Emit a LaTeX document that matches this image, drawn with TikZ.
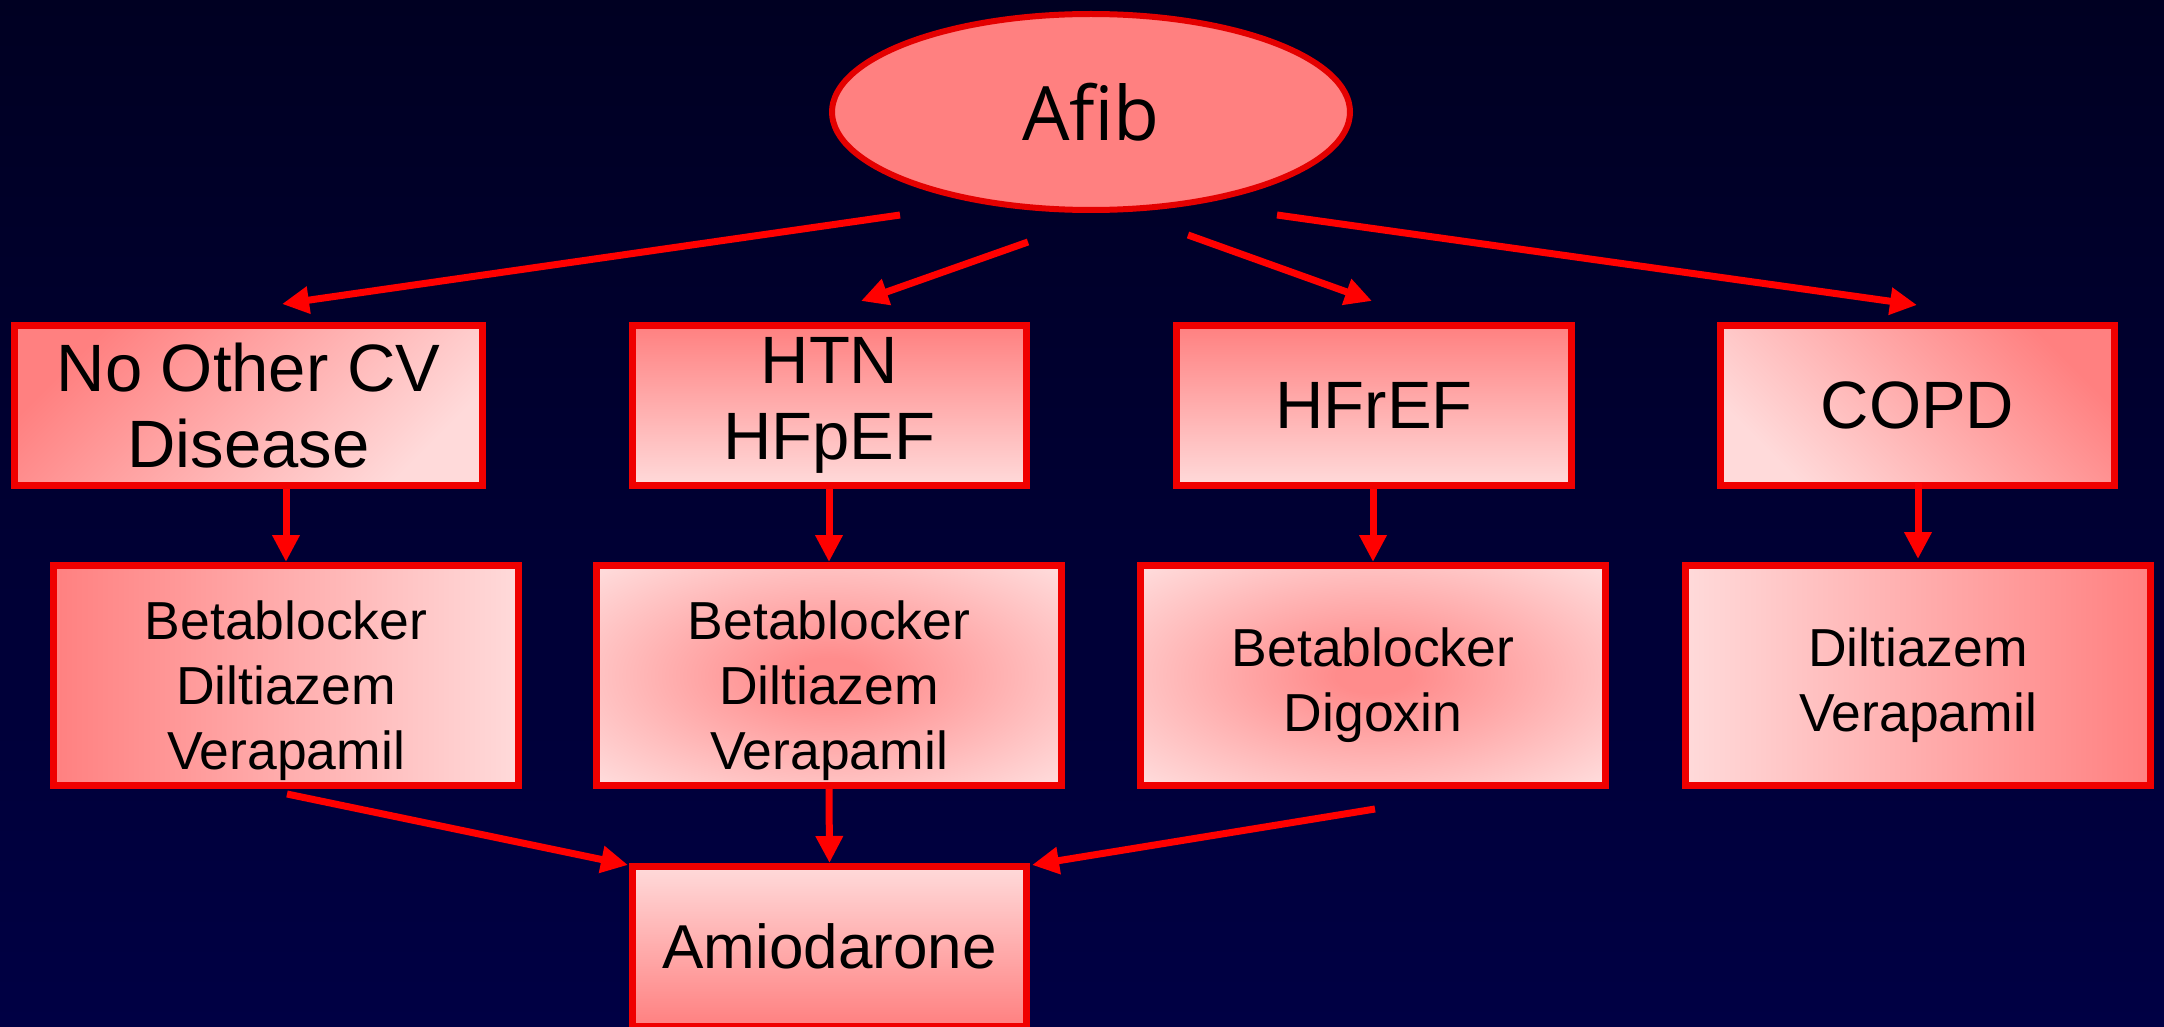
\documentclass[tikz,border=0pt]{standalone}
\usepackage{fontspec}
\setmainfont{Liberation Sans}
\newfontfamily\ovalfont{Open Sans}
\usetikzlibrary{arrows.meta,shapes.geometric,calc}

\definecolor{bgtop}{RGB}{0,0,34}
\definecolor{bgbot}{RGB}{0,0,68}
\definecolor{salmon}{RGB}{255,128,128}
\definecolor{blush}{RGB}{255,218,218}
\definecolor{glowcore}{RGB}{255,140,140}
\definecolor{ovalrim}{RGB}{228,0,0}
\definecolor{boxrim}{RGB}{240,0,0}

% soft radial glow that fades out towards the box edges
\pgfdeclareradialshading{softglow}{\pgfpoint{0bp}{0bp}}{%
  color(0bp)=(glowcore); color(4bp)=(glowcore); color(34bp)=(blush); color(50bp)=(blush)}

% struts that lower the first line of the drug lists
\newcommand{\lowthree}{\rule{0pt}{70pt}}
\newcommand{\lowtwo}{\rule{0pt}{58pt}}

\tikzset{
  x=1pt, y=-1pt,
  box/.style={draw=boxrim, line width=7pt, rectangle, inner sep=0pt,
    align=center, text=black},
  toprow/.style={box, minimum height=160pt, font=\fontsize{67}{76}\selectfont},
  midrow/.style={box, minimum width=465pt, minimum height=220pt,
    font=\fontsize{53.5}{65}\selectfont},
  glowbox/.style={midrow, shade, shading=softglow},
  flow/.style={draw=red, line width=7pt,
    -{Triangle[length=27pt,width=26pt]}}
}

\begin{document}
\begin{tikzpicture}
  % canvas and background
  \useasboundingbox (0,0) rectangle (2164,1027);
  \clip (0,0) rectangle (2164,1027);
  \shade[top color=bgtop, bottom color=bgbot] (0,0) rectangle (2164,1027);

  % root oval
  \node[ellipse, draw=ovalrim, line width=6pt, fill=salmon,
        minimum width=518pt, minimum height=196pt, inner sep=0pt,
        font=\ovalfont\fontsize{75}{85}\selectfont] (afib) at (1091,112) {Afib};

  % condition boxes
  \node[toprow, minimum width=468pt, top color=salmon, bottom color=blush,
        shading angle=45] (c1) at (248.5,405.5) {No Other CV\\Disease};
  \node[toprow, minimum width=394pt, top color=salmon, bottom color=blush]
        (c2) at (829.5,405.5) {HTN\\HFpEF};
  \node[toprow, minimum width=395pt, top color=salmon, bottom color=blush]
        (c3) at (1374,405.5) {HFrEF};
  \node[toprow, minimum width=394pt, top color=salmon, bottom color=blush,
        shading angle=-45] (c4) at (1917.5,405.5) {COPD};

  % drug boxes
  \node[midrow, left color=salmon, right color=blush]
        (d1) at (286,675.5) {\lowthree Betablocker\\Diltiazem\\Verapamil};
  \node[glowbox] (d2) at (829,675.5) {\lowthree Betablocker\\Diltiazem\\Verapamil};
  \node[glowbox] (d3) at (1373,675.5) {\lowtwo Betablocker\\Digoxin};
  \node[midrow, left color=blush, right color=salmon]
        (d4) at (1918,675.5) {\lowtwo Diltiazem\\Verapamil};

  % final box
  \node[toprow, minimum width=394pt, top color=blush, bottom color=salmon,
        font=\fontsize{62}{72}\selectfont] (amio) at (829.5,946.5) {Amiodarone};

  % loose arrow ends
  \coordinate (s1) at (900,215);   \coordinate (e1) at (282,304);
  \coordinate (s2) at (1028,242);  \coordinate (e2) at (861,301);
  \coordinate (s3) at (1188,235);  \coordinate (e3) at (1372,301);
  \coordinate (s4) at (1277,215);  \coordinate (e4) at (1917,305);
  \coordinate (s5) at (287,794);   \coordinate (e5) at (628,865);
  \coordinate (s7) at (1375,809);  \coordinate (e7) at (1032,865);

  % branches from the oval
  \draw[flow] (s1) -- (e1);
  \draw[flow] (s2) -- (e2);
  \draw[flow] (s3) -- (e3);
  \draw[flow] (s4) -- (e4);

  % condition to drugs
  \draw[flow] (d1.north |- c1.south) -- (d1.north);
  \draw[flow] (d2.north |- c2.south) -- (d2.north);
  \draw[flow] (d3.north |- c3.south) -- (d3.north);
  \draw[flow] ($(d4.north |- c4.south)+(0,-6)$) -- ($(d4.north)+(0,-3)$);

  % drugs to amiodarone
  \draw[flow] (s5) -- (e5);
  \draw[flow] (d2.south) -- (amio.north);
  \draw[flow] (s7) -- (e7);
\end{tikzpicture}
\end{document}
